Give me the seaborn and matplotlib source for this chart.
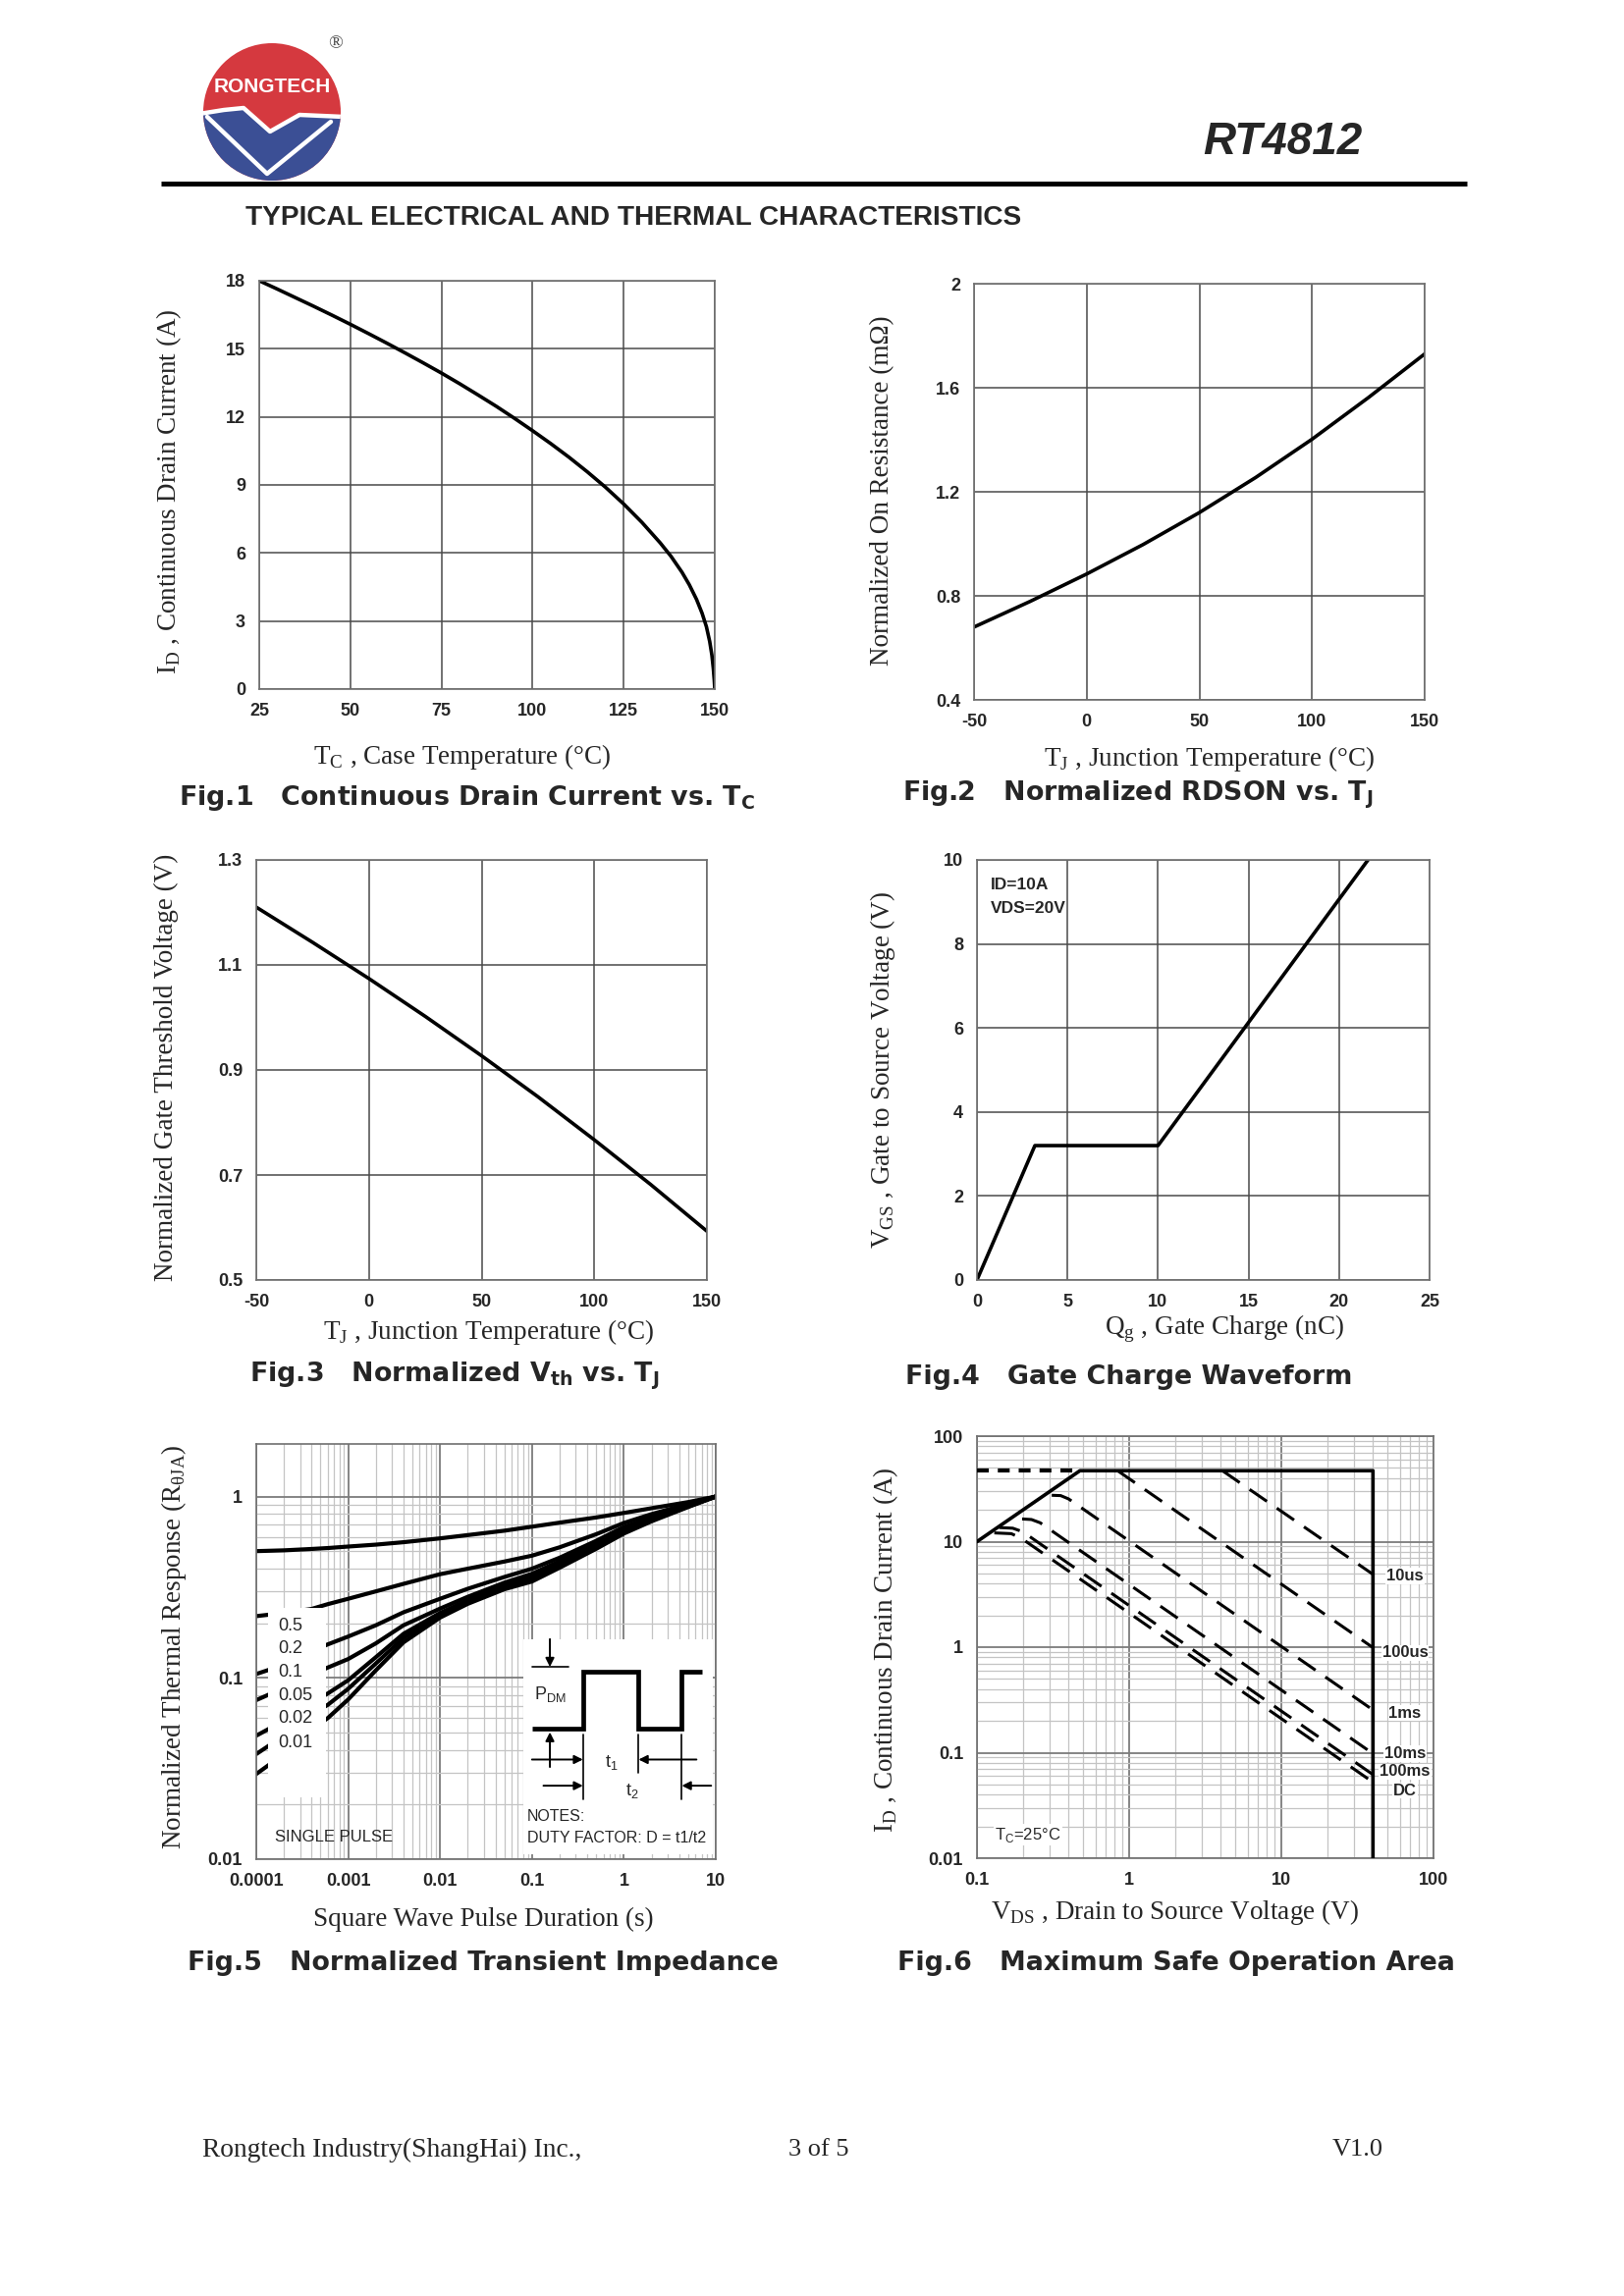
import numpy as np
import matplotlib
matplotlib.use("Agg")
import matplotlib.pyplot as plt
import seaborn as sns
from matplotlib.patches import Circle, Polygon, Rectangle
from matplotlib.ticker import LogLocator, NullFormatter, FixedLocator

# ---------------- data ----------------
# Fig.1  Continuous drain current vs case temperature
fig1_tc = [25, 30, 35, 40, 45, 50, 55, 60, 65, 70, 75, 80, 85, 90, 95, 100, 105, 110, 115, 120,
           125, 130, 135, 138, 141, 143, 145, 146.5, 147.7, 148.6, 149.2, 149.6, 149.85, 150]
fig1_id = [18.0, 17.63, 17.25, 16.87, 16.48, 16.08, 15.67, 15.25, 14.82, 14.38, 13.93, 13.46,
           12.97, 12.47, 11.94, 11.39, 10.82, 10.22, 9.58, 8.9, 8.16, 7.35, 6.45, 5.85, 5.15,
           4.6, 3.95, 3.35, 2.75, 2.1, 1.5, 0.9, 0.4, 0.0]

# Fig.2  Normalized RDSON vs TJ
fig2_tj = [-50, -25, 0, 25, 50, 75, 100, 125, 150]
fig2_rds = [0.68, 0.779, 0.884, 0.997, 1.12, 1.255, 1.402, 1.562, 1.73]

# Fig.3  Normalized Vth vs TJ
fig3_tj = [-50, -25, 0, 25, 50, 75, 100, 125, 150]
fig3_vth = [1.21, 1.143, 1.074, 1.002, 0.927, 0.849, 0.767, 0.682, 0.593]

# Fig.4  Gate charge waveform
fig4_qg = [0, 3.2, 10, 21.6]
fig4_vgs = [0, 3.2, 3.2, 10]

# Fig.5  Normalized transient impedance (x in s)
fig5_t = [1e-4, 2e-4, 4e-4, 6e-4, 1e-3, 2e-3, 4e-3, 1e-2, 2e-2, 5e-2, 1e-1, 2e-1, 5e-1, 1, 2, 5, 10]
fig5_d05 = [0.50, 0.505, 0.514, 0.52, 0.53, 0.543, 0.56, 0.588, 0.613, 0.648, 0.682, 0.718, 0.767, 0.812, 0.862, 0.932, 1.0]
fig5_d02 = [0.219, 0.228, 0.24, 0.255, 0.273, 0.30, 0.33, 0.373, 0.40, 0.438, 0.472, 0.525, 0.62, 0.715, 0.80, 0.91, 1.0]
fig5_d01 = [0.105, 0.118, 0.14, 0.153, 0.169, 0.195, 0.23, 0.273, 0.31, 0.36, 0.40, 0.46, 0.57, 0.68, 0.77, 0.90, 1.0]
fig5_d005 = [0.0754, 0.088, 0.104, 0.114, 0.127, 0.155, 0.195, 0.241, 0.28, 0.335, 0.375, 0.44, 0.55, 0.66, 0.76, 0.89, 1.0]
fig5_d002 = [0.048, 0.058, 0.073, 0.082, 0.097, 0.13, 0.175, 0.228, 0.268, 0.322, 0.36, 0.425, 0.535, 0.645, 0.75, 0.885, 1.0]
fig5_d001 = [0.038, 0.048, 0.063, 0.071, 0.087, 0.12, 0.166, 0.222, 0.262, 0.315, 0.35, 0.415, 0.525, 0.635, 0.74, 0.88, 1.0]
fig5_single = [0.0295, 0.038, 0.052, 0.060, 0.076, 0.11, 0.157, 0.215, 0.256, 0.308, 0.34, 0.405, 0.515, 0.625, 0.73, 0.875, 1.0]
fig5_series = [fig5_d05, fig5_d02, fig5_d01, fig5_d005, fig5_d002, fig5_d001, fig5_single]
fig5_legend = ["0.5", "0.2", "0.1", "0.05", "0.02", "0.01"]
fig5_legend_y = [0.192, 0.145, 0.107, 0.080, 0.060, 0.044]

# Fig.6  Safe operating area
soa_limit_v = [0.1, 0.475, 40, 40]
soa_limit_i = [10, 47, 47, 0.01]
soa_top_dash_v = [0.1, 0.475]
soa_top_dash_i = [47, 47]
soa_10us_v, soa_10us_i = [4.1, 40], [47, 4.9]
soa_100us_v, soa_100us_i = [0.84, 40], [47, 0.99]
soa_1ms_v, soa_1ms_i = [0.31, 0.355, 0.40, 40], [27.5, 27.3, 25.4, 0.254]
soa_10ms_v, soa_10ms_i = [0.198, 0.228, 0.26, 40], [16.4, 16.2, 15.1, 0.098]
soa_100ms_v, soa_100ms_i = [0.14, 0.172, 0.2, 40], [13.6, 13.4, 12.4, 0.062]
soa_dc_v, soa_dc_i = [0.13, 0.168, 0.195, 40], [12.1, 11.9, 10.8, 0.0525]
soa_labels = ["10us", "100us", "1ms", "10ms", "100ms", "DC"]
soa_label_y = [4.7, 0.88, 0.238, 0.098, 0.066, 0.0437]

# ---------------- styling ----------------
sns.set_theme(style="white")
plt.rcParams["font.family"] = ["Liberation Sans", "DejaVu Sans"]
plt.rcParams["mathtext.fontset"] = "dejavusans"

W, H = 1654, 2339
fig = plt.figure(figsize=(W / 100, H / 100), dpi=100)
fig.patch.set_facecolor("white")

pg = fig.add_axes([0, 0, 1, 1], zorder=0)
pg.set_xlim(0, W)
pg.set_ylim(H, 0)
pg.axis("off")

SERIF = ["Liberation Serif", "DejaVu Serif"]
SANS = ["Liberation Sans", "DejaVu Sans"]
NARROW = ["Liberation Sans Narrow", "Liberation Sans"]
HEAVY = ["DejaVu Sans"]

# ---------------- header ----------------
cx, cy, r = 277, 114, 70
circ = Circle((cx, cy), r, facecolor="#d5393f", edgecolor="none", zorder=1)
pg.add_patch(circ)
blue = Polygon([(200, 117), (228, 113), (248, 111), (275, 136), (305, 118), (352, 121),
                (352, 200), (200, 200)], closed=True, facecolor="#3b4f95", edgecolor="none", zorder=2)
pg.add_patch(blue)
blue.set_clip_path(circ)
l1, = pg.plot([203, 228, 248, 275, 305, 350], [116, 112, 110, 134, 117, 119], color="white", lw=3.2, zorder=3)
l1.set_clip_path(circ)
l2, = pg.plot([211, 272, 337], [119, 177, 124], color="white", lw=3.2, zorder=3)
l2.set_clip_path(circ)
pg.text(cx, 89, "RONGTECH", color="white", ha="center", va="center", fontsize=15,
        fontweight="bold", family=NARROW, zorder=4)
pg.text(342, 45, "®", ha="center", va="center", fontsize=14, family=SERIF, color="#444444")

pg.text(1387, 145, "RT4812", ha="right", va="center", fontsize=33, fontweight="bold",
        fontstyle="italic", family=SANS)
pg.plot([164, 1494], [186.5, 186.5], color="black", lw=3.6, solid_capstyle="butt")
pg.text(250, 222, "TYPICAL ELECTRICAL AND THERMAL CHARACTERISTICS", ha="left", va="center",
        fontsize=20.2, fontweight="bold", family=SANS)

# ---------------- helpers ----------------
def make_ax(L, T, R, B):
    return fig.add_axes([L / W, 1 - B / H, (R - L) / W, (B - T) / H], zorder=1)


def frame(ax):
    for s in ax.spines.values():
        s.set_visible(True)
        s.set_color("#707070")
        s.set_linewidth(1.2)
    ax.set_axisbelow(True)
    ax.set_facecolor("none")


def tick_font(ax, size=13):
    ax.tick_params(which="both", length=0, pad=10, labelsize=size)
    for lab in ax.get_xticklabels() + ax.get_yticklabels():
        lab.set_fontweight("bold")
        lab.set_family(SANS)


def labels(ax, box, xlab, xpos, ylab, ypos, size=19.5):
    L, T, R, B = box
    ax.set_xlabel(xlab, fontsize=size, family=SERIF, va="center", ha="center")
    ax.xaxis.set_label_coords((xpos[0] - L) / (R - L), (B - xpos[1]) / (B - T))
    ax.set_ylabel(ylab, fontsize=size, family=SERIF, va="center", ha="center")
    ax.yaxis.set_label_coords((ypos[0] - L) / (R - L), (B - ypos[1]) / (B - T))


def caption(x, y, s, size=19.4):
    pg.text(x, y, s, ha="left", va="center", fontsize=size, fontweight="bold", family=HEAVY)


def sline(ax, x, y, lw=2.6, ls="-", z=2):
    sns.lineplot(x=np.asarray(x, float), y=np.asarray(y, float), ax=ax, color="black",
                 linewidth=lw, linestyle=ls, estimator=None, sort=False, legend=False, zorder=z)


def lin_axes(ax, xlim, xt, ylim, yt, ytl):
    ax.set_xlim(*xlim)
    ax.set_ylim(*ylim)
    ax.set_xticks(xt)
    ax.set_xticklabels([str(v) for v in xt])
    ax.set_yticks(yt)
    ax.set_yticklabels(ytl)
    ax.grid(True, color="#4a4a4a", lw=1.1)
    frame(ax)
    tick_font(ax)


# ---------------- Fig.1 ----------------
b1 = (264, 286, 728, 702)
ax1 = make_ax(*b1)
sline(ax1, fig1_tc, fig1_id)
lin_axes(ax1, (25, 150), [25, 50, 75, 100, 125, 150], (0, 18), [0, 3, 6, 9, 12, 15, 18],
         ["0", "3", "6", "9", "12", "15", "18"])
labels(ax1, b1, r"T$_\mathregular{C}$ , Case Temperature (°C)", (471, 771),
       r"I$_\mathregular{D}$ , Continuous Drain Current (A)", (172, 501))
caption(182, 813, r"Fig.1   Continuous Drain Current vs. T$_\mathregular{C}$")

# ---------------- Fig.2 ----------------
b2 = (992, 289, 1451, 713)
ax2 = make_ax(*b2)
sline(ax2, fig2_tj, fig2_rds)
lin_axes(ax2, (-50, 150), [-50, 0, 50, 100, 150], (0.4, 2.0), [0.4, 0.8, 1.2, 1.6, 2.0],
         ["0.4", "0.8", "1.2", "1.6", "2"])
labels(ax2, b2, r"T$_\mathregular{J}$ , Junction Temperature (°C)", (1232, 773),
       "Normalized On Resistance (mΩ)", (899, 500))
caption(919, 810, r"Fig.2   Normalized RDSON vs. T$_\mathregular{J}$")

# ---------------- Fig.3 ----------------
b3 = (261, 876, 720, 1304)
ax3 = make_ax(*b3)
sline(ax3, fig3_tj, fig3_vth)
lin_axes(ax3, (-50, 150), [-50, 0, 50, 100, 150], (0.5, 1.3), [0.5, 0.7, 0.9, 1.1, 1.3],
         ["0.5", "0.7", "0.9", "1.1", "1.3"])
labels(ax3, b3, r"T$_\mathregular{J}$ , Junction Temperature (°C)", (498, 1357),
       "Normalized Gate Threshold Voltage (V)", (169, 1087))
caption(254, 1402, r"Fig.3   Normalized V$_\mathregular{th}$ vs. T$_\mathregular{J}$")

# ---------------- Fig.4 ----------------
b4 = (995, 876, 1456, 1304)
ax4 = make_ax(*b4)
sline(ax4, fig4_qg, fig4_vgs)
lin_axes(ax4, (0, 25), [0, 5, 10, 15, 20, 25], (0, 10), [0, 2, 4, 6, 8, 10],
         ["0", "2", "4", "6", "8", "10"])
labels(ax4, b4, r"Q$_\mathregular{g}$ , Gate Charge (nC)", (1247, 1354),
       r"V$_\mathregular{GS}$ , Gate to Source Voltage (V)", (899, 1090))
ax4.text(0.03, 0.94, "ID=10A", transform=ax4.transAxes, ha="left", va="center", fontsize=12.5,
         fontweight="bold", family=NARROW)
ax4.text(0.03, 0.885, "VDS=20V", transform=ax4.transAxes, ha="left", va="center", fontsize=12.5,
         fontweight="bold", family=NARROW)
caption(922, 1403, "Fig.4   Gate Charge Waveform")


def log_axes(ax, xlim, xt, xtl, ylim, yt, ytl):
    ax.set_xscale("log")
    ax.set_yscale("log")
    ax.set_xlim(*xlim)
    ax.set_ylim(*ylim)
    ax.xaxis.set_major_locator(FixedLocator(xt))
    ax.set_xticklabels(xtl)
    ax.yaxis.set_major_locator(FixedLocator(yt))
    ax.set_yticklabels(ytl)
    for a in (ax.xaxis, ax.yaxis):
        a.set_minor_locator(LogLocator(base=10, subs=np.arange(2, 10), numticks=30))
        a.set_minor_formatter(NullFormatter())
    ax.grid(True, which="minor", color="#c4c4c4", lw=0.9)
    ax.grid(True, which="major", color="#7c7c7c", lw=1.3)
    frame(ax)
    tick_font(ax)


# ---------------- Fig.5 ----------------
b5 = (261, 1471, 729, 1894)
ax5 = make_ax(*b5)
ax5.set_xscale("log")
ax5.set_yscale("log")
for ser in fig5_series:
    sline(ax5, fig5_t, ser, lw=3.0)
log_axes(ax5, (1e-4, 10), [1e-4, 1e-3, 1e-2, 1e-1, 1, 10],
         ["0.0001", "0.001", "0.01", "0.1", "1", "10"],
         (0.01, 1.95), [0.01, 0.1, 1], ["0.01", "0.1", "1"])
labels(ax5, b5, "Square Wave Pulse Duration (s)", (492, 1955),
       r"Normalized Thermal Response (R$_\mathregular{θJA}$)", (177, 1678))
# legend block (white panel covering the curve starts)
ax5.add_patch(Rectangle((1.35e-4, 0.022), 5.8e-4 - 1.35e-4, 0.244 - 0.022, facecolor="white",
                        edgecolor="none", zorder=3))
for lab, yv in zip(fig5_legend, fig5_legend_y):
    ax5.text(1.75e-4, yv, lab, ha="left", va="center", fontsize=13, family=NARROW, zorder=4)
ax5.text(1.6e-4, 0.0132, "SINGLE PULSE", ha="left", va="center", fontsize=12, family=NARROW, zorder=4)
# duty-factor schematic
tA = ax5.transAxes
ax5.add_patch(Rectangle((0.581, 0.012), 0.413, 0.518, transform=tA, facecolor="white",
                        edgecolor="none", zorder=3))
pulse_x = [0.600, 0.711, 0.711, 0.832, 0.832, 0.926, 0.926, 0.971]
pulse_y = [0.314, 0.314, 0.452, 0.452, 0.314, 0.314, 0.452, 0.452]
ax5.plot(pulse_x, pulse_y, transform=tA, color="black", lw=3.4, zorder=6,
         solid_joinstyle="miter", solid_capstyle="butt")
for xs, ys in [([0.711, 0.711], [0.300, 0.145]), ([0.832, 0.832], [0.300, 0.208]),
               ([0.926, 0.926], [0.300, 0.145]), ([0.600, 0.680], [0.463, 0.463])]:
    ax5.plot(xs, ys, transform=tA, color="black", lw=1.2, zorder=6)
arr = dict(arrowstyle="-|>", color="black", lw=1.4, mutation_scale=13, shrinkA=0, shrinkB=0)
for xy, xyt in [((0.639, 0.463), (0.639, 0.530)), ((0.639, 0.306), (0.639, 0.222)),
                ((0.711, 0.240), (0.600, 0.240)), ((0.832, 0.240), (0.958, 0.240)),
                ((0.711, 0.177), (0.625, 0.177)), ((0.926, 0.177), (0.990, 0.177))]:
    ax5.annotate("", xy=xy, xytext=xyt, xycoords=tA, textcoords=tA, arrowprops=arr, zorder=6)
ax5.text(0.639, 0.397, r"P$_\mathregular{DM}$", transform=tA, ha="center", va="center",
         fontsize=13, family=NARROW, zorder=6)
ax5.text(0.774, 0.232, r"t$_\mathregular{1}$", transform=tA, ha="center", va="center",
         fontsize=13, family=NARROW, zorder=6)
ax5.text(0.819, 0.165, r"t$_\mathregular{2}$", transform=tA, ha="center", va="center",
         fontsize=13, family=NARROW, zorder=6)
ax5.text(0.590, 0.102, "NOTES:", transform=tA, ha="left", va="center", fontsize=11.5,
         family=NARROW, zorder=6)
ax5.text(0.590, 0.051, "DUTY FACTOR: D = t1/t2", transform=tA, ha="left", va="center",
         fontsize=11.5, family=NARROW, zorder=6)
caption(191, 2000, "Fig.5   Normalized Transient Impedance")

# ---------------- Fig.6 ----------------
b6 = (995, 1463, 1460, 1893)
ax6 = make_ax(*b6)
ax6.set_xscale("log")
ax6.set_yscale("log")
sline(ax6, soa_limit_v, soa_limit_i, lw=2.6, z=4)
sline(ax6, soa_top_dash_v, soa_top_dash_i, lw=3.0, ls=(0, (2.9, 2.2)), z=4)
for vv, ii in [(soa_10us_v, soa_10us_i), (soa_100us_v, soa_100us_i), (soa_1ms_v, soa_1ms_i),
               (soa_10ms_v, soa_10ms_i), (soa_100ms_v, soa_100ms_i), (soa_dc_v, soa_dc_i)]:
    sline(ax6, vv, ii, lw=2.2, ls=(0, (7, 4)), z=4)
log_axes(ax6, (0.1, 100), [0.1, 1, 10, 100], ["0.1", "1", "10", "100"],
         (0.01, 100), [0.01, 0.1, 1, 10, 100], ["0.01", "0.1", "1", "10", "100"])
labels(ax6, b6, r"V$_\mathregular{DS}$ , Drain to Source Voltage (V)", (1196, 1948),
       r"I$_\mathregular{D}$ , Continuous Drain Current (A)", (902, 1681))
for lab, yv in zip(soa_labels, soa_label_y):
    ax6.text(65, yv, lab, ha="center", va="center", fontsize=12, fontweight="bold", family=SANS,
             zorder=5, bbox=dict(facecolor="white", edgecolor="none", pad=0.6))
ax6.text(0.216, 0.0167, r"T$_\mathregular{C}$=25°C", ha="center", va="center", fontsize=12,
         family=NARROW, zorder=5, bbox=dict(facecolor="white", edgecolor="none", pad=0.8))
caption(914, 2000, "Fig.6   Maximum Safe Operation Area")

# ---------------- footer ----------------
pg.text(206, 2190, "Rongtech Industry(ShangHai) Inc.,", ha="left", va="center", fontsize=19.8, family=SERIF)
pg.text(834, 2190, "3 of 5", ha="center", va="center", fontsize=19, family=SERIF)
pg.text(1383, 2190, "V1.0", ha="center", va="center", fontsize=19, family=SERIF)

fig.savefig("out.png", dpi=100, facecolor="white")
